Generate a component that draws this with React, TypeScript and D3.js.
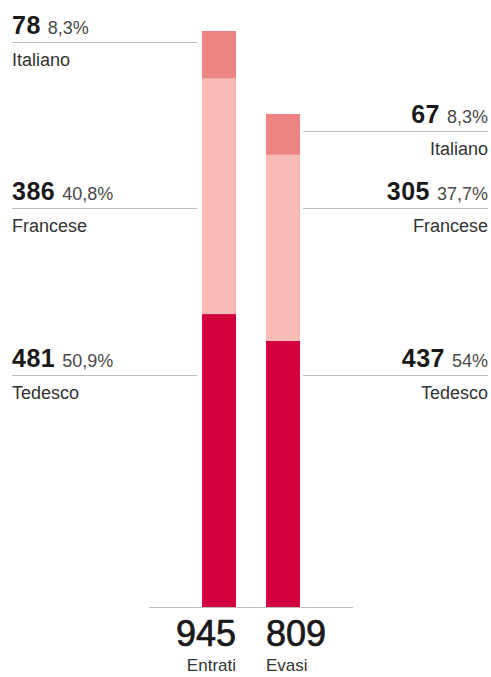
import React from "react";
import * as d3 from "d3";

const groups = ["Entrati", "Evasi"];
const languages = ["Tedesco", "Francese", "Italiano"];
const tedesco = [481, 437];
const francese = [386, 305];
const italiano = [78, 67];
const colors = ["#d3003f", "#f9bbb6", "#ee8482"];

// layout (label anchor lines), not data
const labelLineY = [
  [375, 208, 42],
  [375, 208, 131],
];

const W = 491;
const H = 677;

function fmtPct(v: number) {
  let s = v.toFixed(1);
  if (s.endsWith(".0")) s = s.slice(0, -2);
  return s.replace(".", ",") + "%";
}

export default function App() {
  const series = [tedesco, francese, italiano];
  const rows = groups.map((g, i) => {
    const r: any = { group: g };
    languages.forEach((l, j) => (r[l] = series[j][i]));
    return r;
  });
  const totals = groups.map((_, i) => d3.sum(series, (s) => s[i]));
  const stack = d3.stack<any>().keys(languages)(rows);

  const baseY = 607.5;
  const y = d3.scaleLinear().domain([0, d3.max(totals) as number]).range([baseY, 31]);
  const x = d3.scaleBand<string>().domain(groups).range([202, 300]).paddingInner(30 / 64).paddingOuter(0);
  const bw = x.bandwidth();

  const font = "'Liberation Sans', Arial, Helvetica, sans-serif";

  return (
    <svg width={W} height={H} style={{ position: "absolute", left: 0, top: 0 }} fontFamily={font}>
      {stack.map((layer, j) =>
        layer.map((d, i) => (
          <rect
            key={`${j}-${i}`}
            x={x(groups[i])}
            y={y(d[1])}
            width={bw}
            height={y(d[0]) - y(d[1])}
            fill={colors[j]}
          />
        ))
      )}
      <line x1={149} x2={353} y1={baseY} y2={baseY} stroke="#bdbdbd" strokeWidth={1} />
      {groups.map((g, i) => {
        const left = i === 0;
        const bx = x(g) as number;
        const anchor = left ? "end" : "start";
        const tx = left ? bx + bw : bx;
        return (
          <g key={g}>
            <text x={tx} y={646} textAnchor={anchor} fontSize={36} fill="#1a1a1a" stroke="#1a1a1a" strokeWidth={0.7}>
              {totals[i]}
            </text>
            <text x={tx} y={671} textAnchor={anchor} fontSize={17} fill="#333">
              {g}
            </text>
          </g>
        );
      })}
      {groups.map((g, i) => {
        const left = i === 0;
        const x1 = left ? 12 : 303;
        const x2 = left ? 197 : 488;
        const tx = left ? 12 : 488;
        const anchor = left ? "start" : "end";
        return languages.map((l, j) => {
          const ly = labelLineY[i][j];
          const v = series[j][i];
          return (
            <g key={`${g}-${l}`}>
              <line x1={x1} x2={x2} y1={ly + 0.5} y2={ly + 0.5} stroke="#bdbdbd" strokeWidth={1} />
              <text x={tx} y={ly - 8} textAnchor={anchor} fill="#1a1a1a">
                <tspan fontSize={25} fontWeight={700} letterSpacing={0.5}>{v}</tspan>
                <tspan fontSize={18} fill="#4a4a4a" dx={7}>{fmtPct((v / totals[i]) * 100)}</tspan>
              </text>
              <text x={tx} y={ly + 24} textAnchor={anchor} fontSize={18} fill="#333">
                {l}
              </text>
            </g>
          );
        });
      })}
    </svg>
  );
}
